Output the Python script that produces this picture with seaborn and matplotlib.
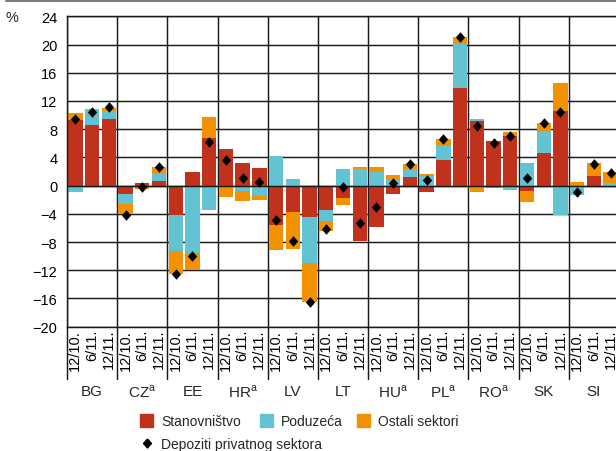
import numpy as np
import pandas as pd
import matplotlib
matplotlib.use('Agg')
import matplotlib.pyplot as plt
import seaborn as sns
from matplotlib import font_manager
from matplotlib.lines import Line2D
from matplotlib.patches import Patch

# ------------------------------------------------------------
# Data (% change)
# ------------------------------------------------------------
countries = ['BG', 'CZ', 'EE', 'HR', 'LV', 'LT', 'HU', 'PL', 'RO', 'SK', 'SI']
footnote = ['CZ', 'HR', 'HU', 'PL', 'RO']
periods = ['12/10.', '6/11.', '12/11.']

# one value per bar: country by country, periods 12/10., 6/11., 12/11.
stanovnistvo = [9.3, 8.6, 9.4,  -1.2, 0.35, 0.6,  -4.2, 1.9, 6.7,
                5.2, 3.2, 2.5,  -5.6, -3.7, -4.4,  -3.4, -1.8, -7.9,
                -5.9, -1.2, 1.2,  -0.9, 3.7, 13.8,  9.1, 6.3, 7.1,
                -0.8, 4.6, 10.6,  0.0, 1.3, 0.0]
poduzeca = [-0.9, 2.3, 1.2,  -1.4, 0.0, 1.0,  -5.0, -9.5, -3.5,
            0.0, -0.7, -1.5,  4.2, 1.0, -6.5,  -1.6, 2.3, 2.4,
            2.0, 0.8, 1.1,  1.3, 1.9, 6.3,  0.4, 0.0, -0.6,
            3.2, 3.2, -4.1,  -1.4, 0.0, 0.4]
ostali = [1.0, -0.2, 0.4,  -1.4, -0.45, 1.0,  -3.3, -2.4, 3.0,
          -1.6, -1.5, -0.6,  -3.5, -5.3, -5.6,  -1.4, -0.9, 0.25,
          0.7, 0.7, 0.7,  0.4, 1.0, 1.0,  -0.9, -0.35, 0.5,
          -1.5, 1.1, 4.0,  0.5, 1.85, 1.5]
depoziti = [9.4, 10.5, 11.1,  -4.1, -0.25, 2.7,  -12.6, -10.0, 6.25,
            3.65, 1.1, 0.5,  -4.9, -7.9, -16.5,  -6.1, -0.15, -5.35,
            -3.1, 0.4, 3.1,  0.8, 6.65, 21.1,  8.5, 6.0, 7.05,
            1.05, 8.85, 10.45,  -0.85, 3.05, 1.85]

RED = '#c0321b'
CYAN = '#63c3d2'
ORANGE = '#f29200'
LINE = '#1a1a1a'

# ------------------------------------------------------------
# Style / fonts
# ------------------------------------------------------------
sns.set_theme(style='white')
names = {f.name for f in font_manager.fontManager.ttflist}
has_narrow = 'Liberation Sans Narrow' in names
NARROW = 'Liberation Sans Narrow' if has_narrow else 'Liberation Sans'
TXT_SIZE = 11.5 if has_narrow else 10
plt.rcParams['font.family'] = ['Liberation Sans', 'DejaVu Sans']
plt.rcParams['axes.unicode_minus'] = True

# ------------------------------------------------------------
# Stacked parts: positives go up, negatives go down
# ------------------------------------------------------------
n = len(countries) * len(periods)
df = pd.DataFrame({'slot': np.arange(n), 'st': stanovnistvo,
                   'po': poduzeca, 'os': ostali, 'dep': depoziti})
up = df[['st', 'po', 'os']].clip(lower=0).cumsum(axis=1)
down = df[['st', 'po', 'os']].clip(upper=0).cumsum(axis=1)

fig = plt.figure(figsize=(6.16, 4.52), dpi=100)
ax = fig.add_axes([67 / 616, 1 - 327.7 / 452, 552 / 616, 310.4 / 452])

for col, color in (('os', ORANGE), ('po', CYAN), ('st', RED)):
    for parts in (up, down):
        sns.barplot(x=df['slot'], y=parts[col], color=color, saturation=1,
                    width=0.86, errorbar=None, linewidth=0, edgecolor='none',
                    zorder=2, ax=ax)

diamond = [(0, 1), (0.88, 0), (0, -1), (-0.88, 0), (0, 1)]
sns.scatterplot(data=df, x='slot', y='dep', marker=diamond, s=58,
                color='black', linewidth=0, zorder=5, legend=False, ax=ax)

# ------------------------------------------------------------
# Axes cosmetics
# ------------------------------------------------------------
ax.set_xlim(-0.5, n - 0.5)
ax.set_ylim(-20, 24)
ax.set_yticks(range(-20, 25, 4))
ax.set_xticks(range(n))
ax.set_xticklabels(periods * len(countries), rotation=90, fontsize=10.5)
ax.set_xlabel('')
ax.set_ylabel('')
ax.tick_params(axis='both', length=0, colors='black')
ax.tick_params(axis='y', pad=7, labelsize=10.5)
ax.tick_params(axis='x', pad=1.5)
ax.set_axisbelow(True)
ax.yaxis.grid(True, color=LINE, lw=1.05)
ax.xaxis.grid(False)
for s in ax.spines.values():
    s.set_color(LINE)
    s.set_linewidth(1.05)
ax.axhline(0, color=LINE, lw=1.05, zorder=3)

# group separators, running down through the tick labels
xtrans = ax.get_xaxis_transform()
for k in range(len(countries) + 1):
    xb = 3 * k - 0.5
    ax.axvline(xb, color=LINE, lw=1.05, zorder=1)
    ax.plot([xb, xb], [0, -0.168], color=LINE, lw=1.05,
            transform=xtrans, clip_on=False)

for i, c in enumerate(countries):
    label = c + r'$^{\mathregular{a}}$' if c in footnote else c
    ax.text(3 * i + 1, -0.207, label, transform=xtrans, ha='center',
            va='center', fontsize=11, family=[NARROW, 'DejaVu Sans'])

fig.text(12 / 616, 1 - 17.5 / 452, '%', ha='center', va='center', fontsize=10.5)
fig.add_artist(Line2D([6 / 616, 1], [1 - 2 / 452] * 2, color='#808080', lw=1.5))

# ------------------------------------------------------------
# Legend (one small legend per entry so each sits where the original has it)
# ------------------------------------------------------------
leg_kw = dict(frameon=False, borderpad=0, borderaxespad=0, handlelength=0.95,
              handleheight=1.05, handletextpad=0.55, loc='center left',
              prop={'family': [NARROW, 'DejaVu Sans'], 'size': TXT_SIZE})
entries = [(RED, 'Stanovništvo', 140), (CYAN, 'Poduzeća', 260),
           (ORANGE, 'Ostali sektori', 357)]
for color, text, x0 in entries:
    fig.legend(handles=[Patch(color=color, label=text)],
               bbox_to_anchor=(x0 / 616, 1 - 422 / 452), **leg_kw)
dep_handle = [Line2D([], [], ls='none', marker=diamond, ms=6.5, color='black',
                     label='Depoziti privatnog sektora')]
fig.legend(handles=dep_handle, bbox_to_anchor=(140 / 616, 1 - 445 / 452), **leg_kw)

fig.savefig('out.png', dpi=100)
